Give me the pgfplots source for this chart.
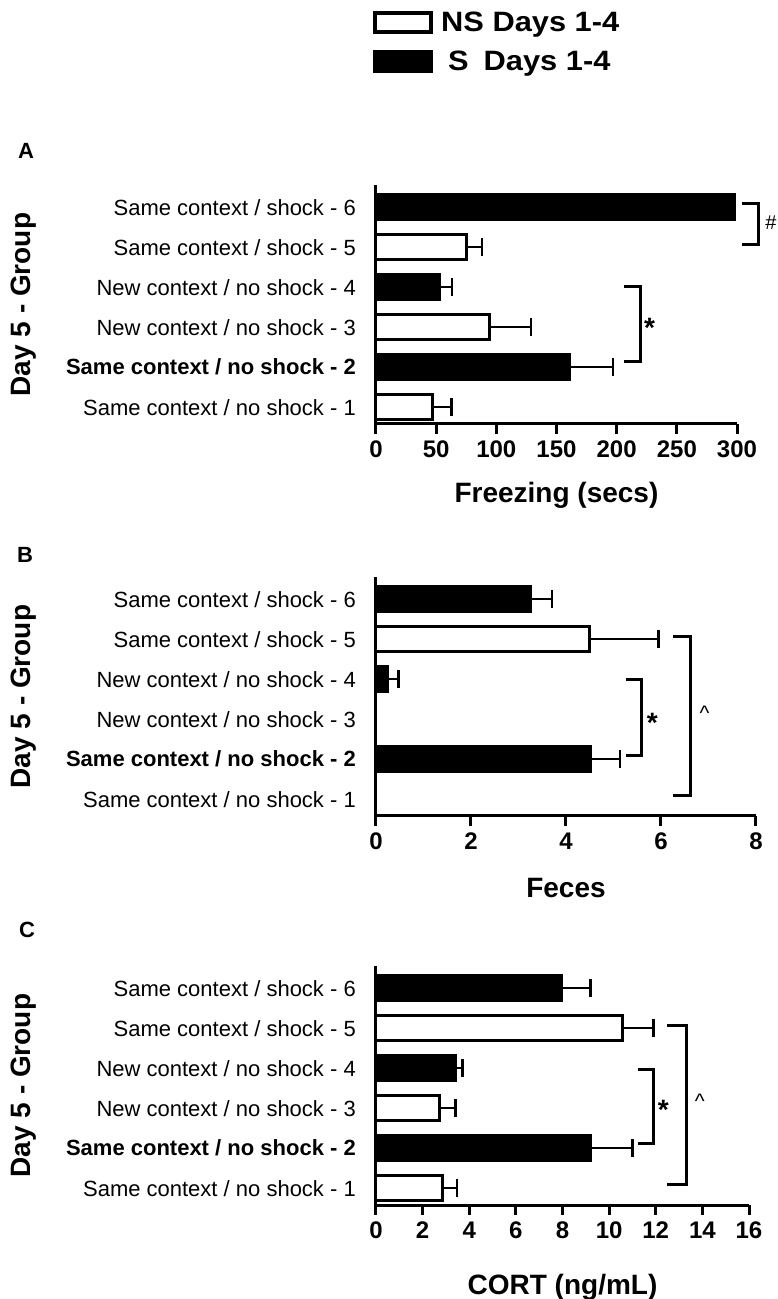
\documentclass[border=0pt]{standalone}
\usepackage{fontspec}
\setmainfont{Liberation Sans}
\newfontfamily\legfont[FakeStretch=1.1]{Liberation Sans}
\usepackage{pgfplots}
\pgfplotsset{compat=1.18}

\newcommand{\fs}[1]{\fontsize{#1}{#1}\selectfont}

\pgfplotsset{
  panel/.style={
    xbar, bar width=25pt, bar shift=0pt,
    scale only axis,
    axis x line*=bottom, axis y line*=left,
    axis line style={line width=3pt},
    ymin=0.58, ymax=6.55, height=238.8pt,
    xmin=0,
    ytick={1,...,6},
    yticklabels={Same context / no shock - 1, \textbf{Same context / no shock - 2},
      New context / no shock - 3, New context / no shock - 4,
      Same context / shock - 5, Same context / shock - 6},
    ytick style={draw=none},
    yticklabel style={font=\fs{22}, anchor=east, inner sep=0pt, xshift=-10pt},
    xtick align=outside, major tick length=10pt,
    xtick style={line width=3pt, black},
    xticklabel style={font=\bfseries\fs{24}, inner sep=0pt, anchor=north, yshift=-7pt},
    /pgf/number format/assume math mode=true,
    xlabel style={font=\bfseries\fs{28}, anchor=center},
    ylabel={Day 5 - Group},
    ylabel style={font=\bfseries\fs{28}, anchor=center,
      at={([xshift=-352pt]axis description cs:0,0.5)}},
    clip=false,
    error bars/x dir=plus, error bars/x explicit,
    error bars/error mark=|,
    error bars/error bar style={line width=2.5pt},
    error bars/error mark options={line width=2.5pt, mark size=9pt},
  },
  nsbar/.style={draw=black, fill=white, line width=3pt},
  sbar/.style={draw=black, fill=black, line width=3pt},
}
\tikzset{brk/.style={line width=3pt}}

\begin{document}
\begin{tikzpicture}
\path[use as bounding box] (0,0) rectangle (778pt,1299pt);

% panel letters
\node[font=\bfseries\fs{22}, inner sep=0pt] at (26pt,1148pt) {A};
\node[font=\bfseries\fs{22}, inner sep=0pt] at (25pt,744pt) {B};
\node[font=\bfseries\fs{22}, inner sep=0pt] at (27pt,369pt) {C};

% A: freezing
\begin{axis}[panel,
    at={(376pt,875pt)}, anchor=south west,
    width=361pt, xmax=300, xtick={0,50,...,300},
    xlabel={Freezing (secs)},
    xlabel style={at={([yshift=-71pt]axis description cs:0.5,0)}},
    legend cell align=left,
    legend style={at={(axis description cs:-0.0083,1.732)}, anchor=north west,
      draw=none, fill=none, inner sep=0pt, row sep=16pt, column sep=8pt,
      font=\legfont\bfseries\fs{28}, nodes={inner sep=0pt}},
    legend image code/.code={\draw[#1, line width=4pt] (2pt,-9.5pt) rectangle (58pt,9.5pt);},
  ]
  \addplot[nsbar] coordinates {(47,1) +- (15.8,0) (94.3,3) +- (34.5,0) (74.8,5) +- (13.3,0)};
  \addlegendentry{NS Days 1-4}
  \addplot[sbar] coordinates {(160.8,2) +- (36.2,0) (52.8,4) +- (10.4,0)};
  \addlegendentry{\hspace{7pt}S\hspace{15pt}Days 1-4}
  \addplot[sbar, forget plot, error bars/x dir=none] coordinates {(298,6)};
  \draw[brk] (axis cs:304.2,6.09) -- (axis cs:318,6.09) -- (axis cs:318,5.06) -- (axis cs:304.2,5.06);
  \node[anchor=base west, inner sep=0pt, font=\fs{20}, yshift=-7pt] at (axis cs:323.5,5.61) {\#};
  \draw[brk] (axis cs:206.5,4.01) -- (axis cs:219.8,4.01) -- (axis cs:219.8,2.14) -- (axis cs:206.5,2.14);
  \node[anchor=base west, inner sep=0pt, font=\bfseries\fs{28}, yshift=-16pt] at (axis cs:222.7,3.13) {*};
\end{axis}

% B: feces
\begin{axis}[panel,
    at={(376pt,483pt)}, anchor=south west,
    width=380pt, xmax=8, xtick={0,2,...,8},
    xlabel={Feces},
    xlabel style={at={([yshift=-72pt]axis description cs:0.5,0)}},
  ]
  \addplot[nsbar] coordinates {(4.49,5) +- (1.46,0)};
  \addplot[sbar] coordinates {(4.51,2) +- (0.63,0) (0.25,4) +- (0.22,0) (3.26,6) +- (0.45,0)};
  \draw[brk] (axis cs:5.26,4.0) -- (axis cs:5.6,4.0) -- (axis cs:5.6,2.08) -- (axis cs:5.26,2.08);
  \node[anchor=base west, inner sep=0pt, font=\bfseries\fs{28}, yshift=-16pt] at (axis cs:5.70,3.06) {*};
  \draw[brk] (axis cs:6.25,5.06) -- (axis cs:6.63,5.06) -- (axis cs:6.63,1.09) -- (axis cs:6.25,1.09);
  \node[anchor=base west, inner sep=0pt, font=\fs{21}, yshift=-11pt] at (axis cs:6.81,3.23) {\^{}};
\end{axis}

% C: CORT
\begin{axis}[panel,
    at={(376pt,94pt)}, anchor=south west,
    width=373pt, xmax=16, xtick={0,2,...,16},
    xlabel={CORT (ng/mL)},
    xlabel style={at={([yshift=-82pt]axis description cs:0.5,0)}},
  ]
  \addplot[nsbar] coordinates {(2.84,1) +- (0.64,0) (2.71,3) +- (0.69,0) (10.58,5) +- (1.32,0)};
  \addplot[sbar] coordinates {(9.18,2) +- (1.82,0) (3.42,4) +- (0.28,0) (7.95,6) +- (1.25,0)};
  \draw[brk] (axis cs:11.22,3.98) -- (axis cs:11.9,3.98) -- (axis cs:11.9,2.12) -- (axis cs:11.22,2.12);
  \node[anchor=base west, inner sep=0pt, font=\bfseries\fs{28}, yshift=-16pt] at (axis cs:12.08,3.13) {*};
  \draw[brk] (axis cs:12.5,5.08) -- (axis cs:13.33,5.08) -- (axis cs:13.33,1.105) -- (axis cs:12.5,1.105);
  \node[anchor=base west, inner sep=0pt, font=\fs{21}, yshift=-11pt] at (axis cs:13.67,3.26) {\^{}};
\end{axis}
\end{tikzpicture}
\end{document}
